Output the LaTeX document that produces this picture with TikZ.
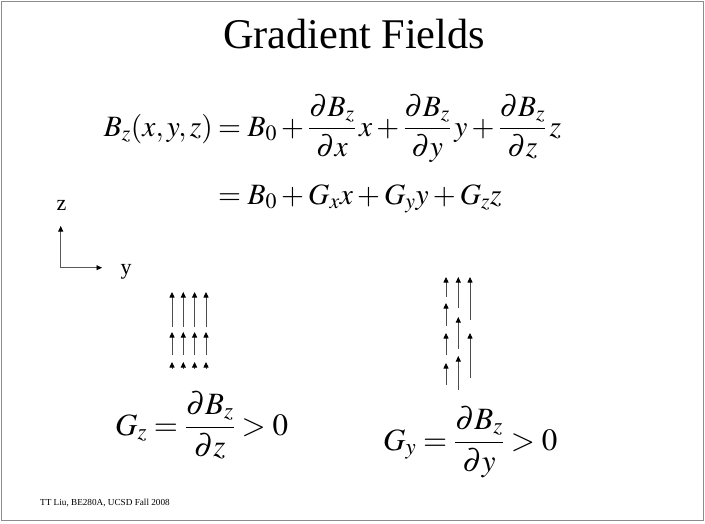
\documentclass[tikz,border=0pt]{standalone}
\usepackage{amsmath}
\usepackage{mathptmx}
\usepackage[no-math]{fontspec}
\setmainfont{Liberation Serif}
\usetikzlibrary{arrows.meta,positioning}
\definecolor{slidegray}{HTML}{8C8C8C}
\definecolor{shaftgray}{HTML}{4D4D4D}

\begin{document}
\begin{tikzpicture}[x=1pt,y=-1pt,
    eqtext/.style={inner sep=0pt, font=\fontsize{29.5}{34}\selectfont},
    axlabel/.style={inner sep=0pt, font=\fontsize{22}{26}\selectfont},
    fieldarrow/.style={-{Triangle[length=5.5pt,width=5pt,color=black]},
      line width=0.8pt, draw=shaftgray},
    axisline/.style={{Triangle[length=5.5pt,width=5pt,color=black]}-{Triangle[length=5.5pt,width=5pt,color=black]},
      line width=0.9pt, draw=black!65}]
  \useasboundingbox (0,0) rectangle (705,523);
  \draw[slidegray, line width=0.8pt] (1.5,1.5) rectangle (703.5,520.5);

  % title
  \node[inner sep=0pt, font=\fontsize{42.3}{48}\selectfont, anchor=base] (title) at (354,48) {Gradient Fields};

  % field expansion
  \coordinate (eqmark) at (218,136);
  \node[eqtext, anchor=base east] (lhs) at ([xshift=-5pt]eqmark) {$B_z(x,y,z)$};
  \node[eqtext, anchor=base west] (rhsa) at (eqmark)
    {$\displaystyle = B_0 + \frac{\partial B_z}{\partial x}\,x + \frac{\partial B_z}{\partial y}\,y + \frac{\partial B_z}{\partial z}\,z$};
  \node[eqtext, anchor=base west] (rhsb) at ([yshift=-68pt]rhsa.base west)
    {$= B_0 + G_x x + G_y y + G_z z$};

  % axes
  \coordinate (origin) at (60.7,267.7);
  \coordinate (ztip) at (60.7,226);
  \coordinate (ytip) at (102,267.7);
  \draw[axisline] (ztip) -- (origin) -- (ytip);
  \node[axlabel, anchor=base] (zlabel) at (61.5,210) {z};
  \node[axlabel, anchor=base] (ylabel) at (126,274) {y};

  % Gz > 0
  \foreach \x in {172,183.3,194.6,206}
    \foreach \tip/\tail in {292/327,332/355,362/369}
      \draw[fieldarrow] (\x,\tail) -- (\x,\tip);

  % Gy > 0
  \foreach \tip/\tail in {277/297,303/326,333/355,363/385}
    \draw[fieldarrow] (446,\tail) -- (446,\tip);
  \foreach \tip/\tail in {277/308,317/349,356/390}
    \draw[fieldarrow] (458.3,\tail) -- (458.3,\tip);
  \foreach \tip/\tail in {277/320,333/378}
    \draw[fieldarrow] (470,\tail) -- (470,\tip);

  % gradients
  \node[eqtext, font=\fontsize{31}{36}\selectfont, anchor=base west] (gz) at (115,435)
    {$G_z = \dfrac{\partial B_z}{\partial z} > 0$};
  \node[eqtext, font=\fontsize{31}{36}\selectfont, anchor=base west] (gy) at (383,450)
    {$G_y = \dfrac{\partial B_z}{\partial y} > 0$};

  % footer
  \node[inner sep=0pt, font=\fontsize{9.2}{11}\selectfont, anchor=base west] (footer) at (40,505)
    {TT Liu, BE280A, UCSD Fall 2008};
\end{tikzpicture}
\end{document}
